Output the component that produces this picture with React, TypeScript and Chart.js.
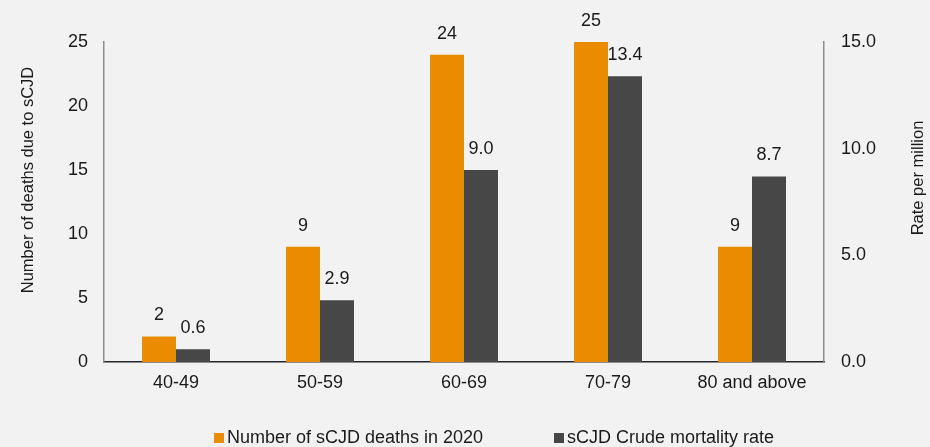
import React, { useEffect, useRef } from "react";
import { Chart, registerables } from "chart.js";

Chart.register(...registerables);

const categories = ["40-49", "50-59", "60-69", "70-79", "80 and above"];
const deaths = [2, 9, 24, 25, 9];
const rates = [0.6, 2.9, 9.0, 13.4, 8.7];
const seriesNames = ["Number of sCJD deaths in 2020", "sCJD Crude mortality rate"];
const leftTitle = "Number of deaths due to sCJD";
const rightTitle = "Rate per million";

const ORANGE = "#EA8B00";
const GREY = "#474747";
const BG = "#F2F2F2";
const TEXT = "#1a1a1a";
const FONT = "Liberation Sans, Arial, sans-serif";
const FS = 18;
const TITLE_FS = 16.5;

const W = 930;
const H = 447;

const customPlugin = {
  id: "custom",
  beforeDraw(chart: any) {
    const ctx = chart.ctx;
    ctx.save();
    ctx.fillStyle = BG;
    ctx.fillRect(0, 0, chart.width, chart.height);
    ctx.restore();
  },
  afterDraw(chart: any) {
    const ctx = chart.ctx;
    ctx.save();
    ctx.font = `${FS}px ${FONT}`;
    ctx.fillStyle = TEXT;
    ctx.textAlign = "center";
    ctx.textBaseline = "middle";
    chart.data.datasets.forEach((ds: any, di: number) => {
      const meta = chart.getDatasetMeta(di);
      meta.data.forEach((el: any, i: number) => {
        const v = ds.data[i];
        const txt = di === 0 ? String(v) : Number(v).toFixed(1);
        ctx.fillText(txt, el.x, el.y - 21);
      });
    });
    // axis titles
    ctx.font = `${TITLE_FS}px ${FONT}`;
    ctx.save();
    ctx.translate(28, 180);
    ctx.rotate(-Math.PI / 2);
    ctx.fillText(leftTitle, 0, 0);
    ctx.restore();
    ctx.save();
    ctx.translate(918, 178);
    ctx.rotate(-Math.PI / 2);
    ctx.fillText(rightTitle, 0, 0);
    ctx.restore();
    // legend
    ctx.font = `${FS}px ${FONT}`;
    const items = [
      { x: 214, color: ORANGE, label: seriesNames[0] },
      { x: 554, color: GREY, label: seriesNames[1] },
    ];
    ctx.textAlign = "left";
    items.forEach((it) => {
      ctx.fillStyle = it.color;
      ctx.fillRect(it.x, 433, 10, 10);
      ctx.fillStyle = TEXT;
      ctx.fillText(it.label, it.x + 13, 438);
    });
    ctx.restore();
  },
};

export default function App() {
  const ref = useRef<HTMLCanvasElement | null>(null);
  useEffect(() => {
    if (!ref.current) return;
    const chart = new Chart(ref.current, {
      type: "bar",
      data: {
        labels: categories,
        datasets: [
          {
            label: seriesNames[0],
            data: deaths,
            backgroundColor: ORANGE,
            yAxisID: "y",
            categoryPercentage: 0.472,
            barPercentage: 1,
          },
          {
            label: seriesNames[1],
            data: rates,
            backgroundColor: GREY,
            yAxisID: "y1",
            categoryPercentage: 0.472,
            barPercentage: 1,
          },
        ],
      },
      options: {
        responsive: false,
        animation: false,
        devicePixelRatio: 1,
        layout: { padding: { top: 42, left: 0, right: 0, bottom: 0 } },
        plugins: { legend: { display: false }, tooltip: { enabled: false } },
        scales: {
          x: {
            grid: { display: false, drawTicks: false },
            border: { display: true, color: "#262626", width: 1.5 },
            ticks: { font: { size: FS, family: FONT }, color: TEXT, padding: 10 },
            afterFit: (s: any) => {
              s.height = H - 362;
            },
          },
          y: {
            position: "left",
            min: 0,
            max: 25,
            grid: { display: false, drawTicks: false },
            border: { display: true, color: "#8c8c8c", width: 1.5 },
            ticks: { stepSize: 5, font: { size: FS, family: FONT }, color: TEXT, padding: 16 },
            afterFit: (s: any) => {
              s.width = 104;
            },
          },
          y1: {
            position: "right",
            min: 0,
            max: 15,
            grid: { display: false, drawTicks: false },
            border: { display: true, color: "#8c8c8c", width: 1.5 },
            ticks: {
              stepSize: 5,
              font: { size: FS, family: FONT },
              color: TEXT,
              padding: 17,
              callback: (v: any) => Number(v).toFixed(1),
            },
            afterFit: (s: any) => {
              s.width = W - 824;
            },
          },
        },
      },
      plugins: [customPlugin],
    });
    return () => chart.destroy();
  }, []);
  return (
    <div style={{ position: "fixed", left: 0, top: 0, width: W, height: H, background: BG }}>
      <canvas ref={ref} width={W} height={H} style={{ width: W, height: H, display: "block" }} />
    </div>
  );
}
